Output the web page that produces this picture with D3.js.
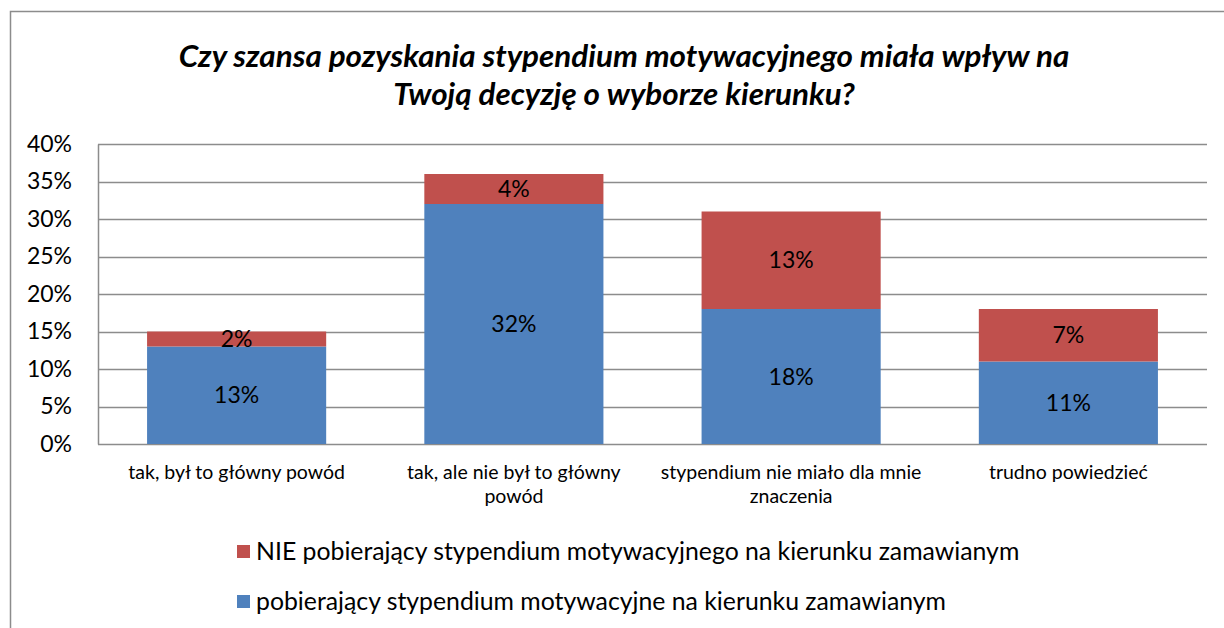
<!DOCTYPE html>
<html>
<head>
<meta charset="utf-8">
<script src="https://cdn.jsdelivr.net/npm/d3@7"></script>
<style>
  body { margin: 0; background: #fff; }
  svg { display: block; font-family: Lato, "Open Sans", sans-serif; }
</style>
</head>
<body>
<div class="chart"></div>
<script>
const width = 1224, height = 628;

// data
const categories = [
    ["tak, był to główny powód"],
    ["tak, ale nie był to główny", "powód"],
    ["stypendium nie miało dla mnie", "znaczenia"],
    ["trudno powiedzieć"]
];
const pobierajacy = [13, 32, 18, 11];
const niePobierajacy = [2, 4, 13, 7];
const seriesNames = [
    "pobierający stypendium motywacyjne na kierunku zamawianym",
    "NIE pobierający stypendium motywacyjnego na kierunku zamawianym"
];
const yTicks = [0, 5, 10, 15, 20, 25, 30, 35, 40];
const colors = ["#4F81BD", "#C0504D"];

const svg = d3.select(".chart")
    .append("svg")
    .attr("width", width)
    .attr("height", height)
    .attr("viewBox", [0, 0, width, height]);

// outer frame
svg.append("path")
    .attr("d", "M10.5,640 V11.5 H1230")
    .attr("fill", "none")
    .attr("stroke", "#8c8c8c")
    .attr("stroke-width", 1.5);

// title
const title = svg.append("text")
    .attr("text-anchor", "middle")
    .attr("font-size", 31.4)
    .attr("font-weight", "bold")
    .attr("font-style", "italic")
    .attr("fill", "#000");
title.append("tspan").attr("x", 624).attr("y", 67)
    .text("Czy szansa pozyskania stypendium motywacyjnego miała wpływ na");
title.append("tspan").attr("x", 624).attr("y", 105)
    .text("Twoją decyzję o wyborze kierunku?");

const margin = {left: 98, right: 1207, top: 144, bottom: 444};

const x = d3.scaleBand()
    .domain(d3.range(categories.length))
    .range([margin.left, margin.right])
    .paddingInner(0.354)
    .paddingOuter(0.177);

const y = d3.scaleLinear()
    .domain([0, 40])
    .range([margin.bottom, margin.top]);

// gridlines
svg.append("g")
    .selectAll("line")
    .data(yTicks)
    .join("line")
    .attr("x1", margin.left)
    .attr("x2", margin.right)
    .attr("y1", d => Math.round(y(d)) + 0.5)
    .attr("y2", d => Math.round(y(d)) + 0.5)
    .attr("stroke", "#8c8c8c")
    .attr("stroke-width", 1.5);

// y axis
const yAxis = svg.append("g")
    .attr("transform", `translate(${margin.left},0)`)
    .call(d3.axisLeft(y).tickValues(yTicks).tickSize(0).tickPadding(26).tickFormat(d => d + "%"));
yAxis.select(".domain").attr("stroke", "#8c8c8c").attr("stroke-width", 1.5);
yAxis.selectAll("text")
    .attr("font-family", "Lato, sans-serif")
    .attr("font-size", 23)
    .attr("fill", "#000");

// stacked bars
const rows = pobierajacy.map((v, i) => ({a: v, b: niePobierajacy[i]}));
const stacked = d3.stack().keys(["a", "b"])(rows);

const groups = svg.append("g")
    .selectAll("g")
    .data(stacked)
    .join("g")
    .attr("fill", (d, i) => colors[i]);

groups.selectAll("rect")
    .data(d => d)
    .join("rect")
    .attr("x", (d, i) => x(i))
    .attr("width", x.bandwidth())
    .attr("y", d => y(d[1]))
    .attr("height", d => y(d[0]) - y(d[1]));

groups.selectAll("text")
    .data(d => d)
    .join("text")
    .attr("x", (d, i) => x(i) + x.bandwidth() / 2)
    .attr("y", d => (y(d[0]) + y(d[1])) / 2 + 8)
    .attr("text-anchor", "middle")
    .attr("font-size", 23)
    .attr("fill", "#000")
    .text(d => (d[1] - d[0]) + "%");

// category labels
const catLabels = svg.append("g")
    .selectAll("text")
    .data(categories)
    .join("text")
    .attr("text-anchor", "middle")
    .attr("font-size", 19.5)
    .attr("fill", "#000");
catLabels.selectAll("tspan")
    .data((d, i) => d.map(line => ({line, i})))
    .join("tspan")
    .attr("x", d => x(d.i) + x.bandwidth() / 2)
    .attr("y", (d, j) => 479 + j * 24)
    .text(d => d.line);

// legend (red first, then blue)
const legendItems = [1, 0];
const legend = svg.append("g")
    .selectAll("g")
    .data(legendItems)
    .join("g")
    .attr("transform", (d, i) => `translate(237,${545 + i * 50})`);
legend.append("rect")
    .attr("width", 13)
    .attr("height", 13)
    .attr("fill", d => colors[d]);
legend.append("text")
    .attr("x", 19)
    .attr("y", 15)
    .attr("font-size", 24.8)
    .attr("fill", "#000")
    .text(d => seriesNames[d]);
</script>
</body>
</html>
